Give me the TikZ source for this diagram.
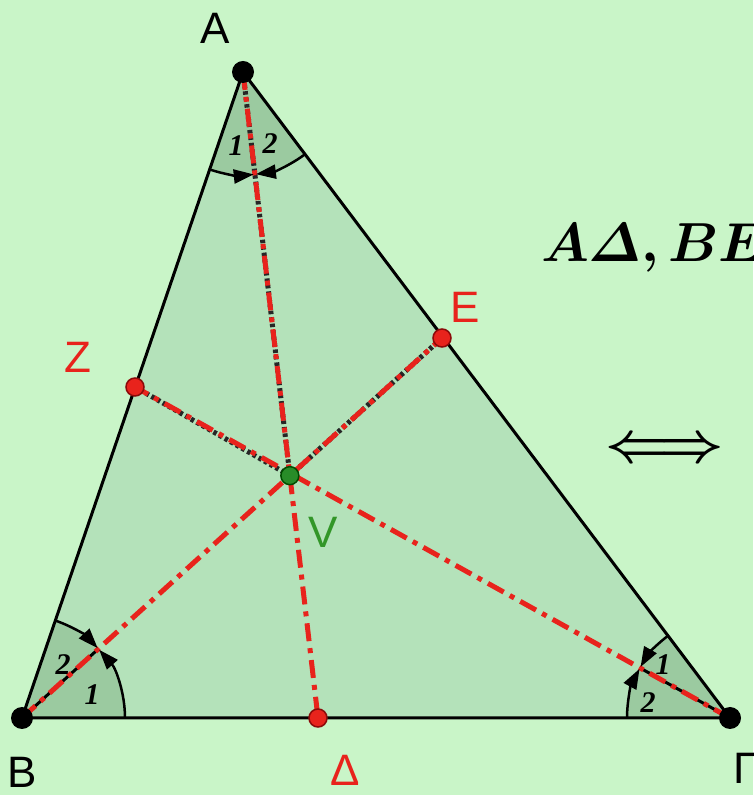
\documentclass[tikz,border=0pt]{standalone}
\usepackage{amsmath,bm}
\usepackage{fontspec}
\setmainfont{Liberation Sans}
\newfontfamily\numfont{Liberation Serif}
\usetikzlibrary{arrows.meta,calc,intersections}
\definecolor{bgc}{RGB}{201,245,200}
\definecolor{tric}{RGB}{180,226,186}
\definecolor{secc}{RGB}{155,202,160}
\definecolor{redc}{RGB}{232,35,28}
\definecolor{dredc}{RGB}{140,10,10}
\definecolor{vgreen}{RGB}{50,150,40}
\definecolor{dotgreen}{RGB}{40,140,40}
\begin{document}
\begin{tikzpicture}[x=1pt,y=1pt,
  side/.style={black,line width=3pt,line join=round},
  bis/.style={redc,line width=5pt,dash pattern=on 18pt off 7pt on 5pt off 7pt},
  blk/.style={black!85,line width=5pt,dash pattern=on 3.5pt off 3pt},
  blksolid/.style={black,line width=3pt},
  angarc/.style={black,line width=2.5pt,-{Triangle[length=20pt,width=14pt]}},
  sector/.style={fill=secc},
  vlabel/.style={font=\fontsize{44}{50}\selectfont,inner sep=0pt},
  rlabel/.style={vlabel,text=redc},
  num/.style={font=\numfont\bfseries\itshape\fontsize{30}{32}\selectfont,inner sep=0pt}]
\useasboundingbox (0,0) rectangle (753,795);
\fill[bgc] (0,0) rectangle (753,795);
% vertices and points
\coordinate (A) at (243,723);
\coordinate (B) at (22,77);
\coordinate (G) at (730,77);
\coordinate (D) at (318,77);
\coordinate (Z) at (135,408);
\coordinate (E) at (442,457);
\path[name path=ad] (A) -- (D);
\path[name path=be] (B) -- (E);
\path[name intersections={of=ad and be, by=V}];
% fills
\fill[tric] (A) -- (B) -- (G) -- cycle;
\def\r{103}
\fill[sector] (A) -- ++(-108.9:\r) arc[start angle=-108.9,end angle=-53,radius=\r] -- cycle;
\fill[sector] (B) -- ++(0:\r) arc[start angle=0,end angle=71.1,radius=\r] -- cycle;
\fill[sector] (G) -- ++(127:\r) arc[start angle=127,end angle=180,radius=\r] -- cycle;
% black under-lines
\draw[blk] (V) -- (A);
\draw[blk] (V) -- (Z);
\draw[blk] (V) -- (E);
\draw[blksolid] (B) -- ($(B)!\r pt!(E)$);
\draw[blksolid] (G) -- ($(G)!\r pt!(Z)$);
% triangle
\draw[side] (A) -- (B) -- (G) -- cycle;
% bisectors
\draw[bis] (A) -- (D);
\draw[bis] (B) -- (E);
\draw[bis] (G) -- (Z);
% angle arcs
\draw[angarc] (A) ++(-108.9:\r) arc[start angle=-108.9,end angle=-84,radius=\r];
\draw[angarc] (A) ++(-53:\r) arc[start angle=-53,end angle=-82.8,radius=\r];
\draw[angarc] (B) ++(0:\r) arc[start angle=0,end angle=41.5,radius=\r];
\draw[angarc] (B) ++(71.1:\r) arc[start angle=71.1,end angle=42.7,radius=\r];
\draw[angarc] (G) ++(180:\r) arc[start angle=180,end angle=151.5,radius=\r];
\draw[angarc] (G) ++(127:\r) arc[start angle=127,end angle=150.3,radius=\r];
% dots
\foreach \p in {A,B,G} \fill[black] (\p) circle[radius=11];
\foreach \p in {Z,E,D} \filldraw[fill=redc,draw=dredc,line width=1.5pt] (\p) circle[radius=9];
\filldraw[fill=dotgreen,draw=black!70!green,line width=1.5pt] (V) circle[radius=9];
% labels
\node[vlabel] (lA) at (215,767) {A};
\node[vlabel] (lB) at (22,23) {B};
\node[vlabel,anchor=west] (lG) at (733,27) {Γ};
\node[rlabel] (lZ) at (78,438) {Z};
\node[rlabel] (lE) at (465,488) {E};
\node[rlabel] (lD) at (345,25) {Δ};
\node[vlabel,text=vgreen] (lV) at (323,263) {V};
% angle numbers
\node[num] (a1) at (236,649) {1};
\node[num] (a2) at (270,651) {2};
\node[num] (b2) at (63,130) {2};
\node[num] (b1) at (92,100) {1};
\node[num] (g1) at (663,130) {1};
\node[num] (g2) at (648,92) {2};
% right-hand text
\node[anchor=base west,inner sep=0pt,scale=5.5,transform shape] (eq) at (540,533) {$\bm{A\varDelta, BE}$};
\node[inner sep=0pt,scale=5.6,transform shape] (iff) at (665,344) {$\bm{\Longleftrightarrow}$};
\end{tikzpicture}
\end{document}
